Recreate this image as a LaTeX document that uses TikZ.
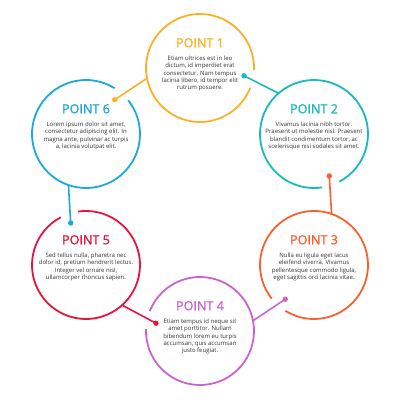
\documentclass[tikz,border=0pt]{standalone}
\usepackage{fontspec}
\setmainfont{Open Sans}
\newfontfamily\ttlfont[FakeBold=1.3]{Open Sans}
\definecolor{cA}{HTML}{F8B22A}
\definecolor{cB}{HTML}{1BB8BE}
\definecolor{cC}{HTML}{F9602F}
\definecolor{cD}{HTML}{C963CD}
\definecolor{cE}{HTML}{E4143D}
\definecolor{cF}{HTML}{1DA8DA}
\definecolor{txt}{HTML}{333333}
\begin{document}
\begin{tikzpicture}[x=1pt,y=-1pt,
  hub/.style={circle,minimum size=108pt,inner sep=0pt,outer sep=0pt},
  ring/.style={line width=1.8pt},
  link/.style={line width=1.6pt},
  ttl/.style={anchor=base,inner sep=0pt,font=\ttlfont\fontsize{12.6}{14}\selectfont},
  body/.style={anchor=north,align=center,inner sep=0pt,text=txt,font=\fontsize{6}{7.2}\selectfont},
  dotr/.style={radius=2.7pt}
]
\useasboundingbox (0,0) rectangle (400,400);

% hubs
\node[hub] (c1) at (200,68) {};
\node[hub] (c2) at (314,134) {};
\node[hub] (c3) at (314,265) {};
\node[hub] (c4) at (200,331) {};
\node[hub] (c5) at (86,265) {};
\node[hub] (c6) at (86,134) {};

% rings with gaps
\draw[ring,cA] (c1) ++(-2:54pt) arc[start angle=-2, end angle=338.5, radius=54pt];
\draw[ring,cB] (c2) ++(-62:54pt) arc[start angle=-62, end angle=278.5, radius=54pt];
\draw[ring,cC] (c3) ++(-122:54pt) arc[start angle=-122, end angle=218.5, radius=54pt];
\draw[ring,cD] (c4) ++(178:54pt) arc[start angle=178, end angle=518.5, radius=54pt];
\draw[ring,cE] (c5) ++(118:54pt) arc[start angle=118, end angle=458.5, radius=54pt];
\draw[ring,cF] (c6) ++(58:54pt) arc[start angle=58, end angle=398.5, radius=54pt];

% dots
\path (c1) ++(-10:44.7pt) coordinate (d1);
\path (c2) ++(-70:44.7pt) coordinate (d2);
\path (c3) ++(-130:44.7pt) coordinate (d3);
\path (c4) ++(170:44.7pt) coordinate (d4);
\path (c5) ++(110:44.7pt) coordinate (d5);
\path (c6) ++(50:44.7pt) coordinate (d6);

% connectors
\draw[link,cB] (d1) -- (c2.131.3);
\draw[link,cC] (d2) -- (c3.71.3);
\draw[link,cD] (d3) -- (c4.11.3);
\draw[link,cE] (d4) -- (c5.-48.7);
\draw[link,cF] (d5) -- (c6.251.3);
\draw[link,cA] (d6) -- (c1.191.3);

\fill[cB] (d1) circle[dotr];
\fill[cC] (d2) circle[dotr];
\fill[cD] (d3) circle[dotr];
\fill[cE] (d4) circle[dotr];
\fill[cF] (d5) circle[dotr];
\fill[cA] (d6) circle[dotr];

% titles
\node[ttl,text=cA] (t1) at (200,47.3) {POINT 1};
\node[ttl,text=cB] (t2) at (314,113.3) {POINT 2};
\node[ttl,text=cC] (t3) at (314,244.3) {POINT 3};
\node[ttl,text=cD] (t4) at (200,310.3) {POINT 4};
\node[ttl,text=cE] (t5) at (86,244.3) {POINT 5};
\node[ttl,text=cF] (t6) at (86,113.3) {POINT 6};

% bodies
\node[body] (b1) at (200,56) {Etiam ultrices est in leo\\dictum, id imperdiet erat\\consectetur. Nam tempus\\lacinia libero, id tempor elit\\rutrum posuere.};
\node[body] (b2) at (314,122) {Vivamus lacinia nibh tortor.\\Praesent ut molestie nisl. Praesent\\blandit condimentum tortor, ac\\scelerisque nisi sodales sit amet.};
\node[body] (b3) at (314,253) {Nulla eu ligula eget lacus\\eleifend viverra. Vivamus\\pellentesque commodo ligula,\\eget sagittis orci lacinia vitae.};
\node[body] (b4) at (200,319) {Etiam tempus id neque sit\\amet porttitor. Nullam\\bibendum lorem eu turpis\\accumsan, quis accumsan\\justo feugiat.};
\node[body] (b5) at (86,253) {Sed tellus nulla, pharetra nec\\dolor id, pretium hendrerit lectus.\\Integer vel ornare nisl,\\ullamcorper rhoncus sapien.};
\node[body] (b6) at (86,122) {Lorem ipsum dolor sit amet,\\consectetur adipiscing elit. In\\magna ante, pulvinar ac turpis\\a, lacinia volutpat elit.};
\end{tikzpicture}
\end{document}
